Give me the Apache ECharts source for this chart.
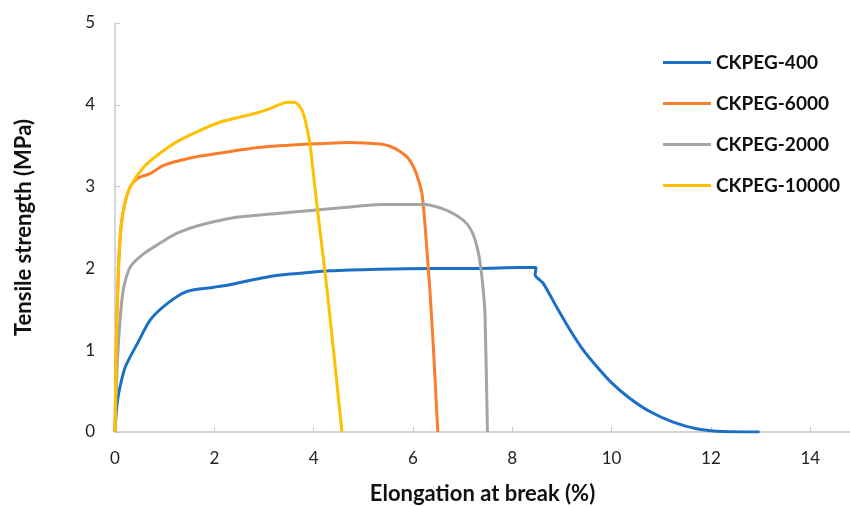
<!DOCTYPE html>
<html><head><meta charset="utf-8">
<script src="https://cdn.jsdelivr.net/npm/echarts@6/dist/echarts.min.js"></script>
<style>html,body{margin:0;padding:0;background:#fff}#c{width:850px;height:507px}</style>
</head><body><div id="c"></div>
<script>
const seriesNames = ['CKPEG-400','CKPEG-6000','CKPEG-2000','CKPEG-10000'];
const x400 = [0,0.02,0.05,0.1,0.21,0.45,0.71,1.05,1.45,1.99,2.39,2.93,3.33,3.73,4.33,5.3,6.34,7.3,8.15,8.48,8.46,8.62,8.89,9.16,9.43,9.70,10.0,10.37,10.77,11.24,11.71,12.24,12.98];
const y400 = [0,0.2,0.38,0.55,0.80,1.08,1.37,1.57,1.72,1.77,1.81,1.88,1.92,1.94,1.97,1.99,2.00,2.00,2.01,2.01,1.92,1.82,1.53,1.25,1.00,0.80,0.60,0.41,0.25,0.12,0.04,0.005,0];
const x6000 = [0,0.03,0.07,0.12,0.2,0.31,0.45,0.71,0.98,1.52,2.12,2.93,3.93,4.73,5.34,5.55,5.74,5.9,6.01,6.1,6.18,6.24,6.29,6.34,6.41,6.50];
const y6000 = [0,1.2,2.0,2.5,2.8,3.0,3.10,3.16,3.26,3.35,3.41,3.48,3.52,3.54,3.52,3.49,3.43,3.35,3.24,3.1,2.92,2.55,2.15,1.74,1.04,0];
const x2000 = [0,0.03,0.06,0.12,0.18,0.31,0.58,0.91,1.25,1.72,2.39,3.26,4.73,5.34,6.21,6.68,7.01,7.15,7.25,7.33,7.38,7.42,7.45,7.50];
const y2000 = [0,0.6,1.0,1.5,1.78,2.02,2.18,2.31,2.43,2.53,2.62,2.67,2.75,2.78,2.78,2.71,2.59,2.49,2.35,2.15,1.94,1.7,1.45,0];
const x10000 = [0,0.03,0.07,0.12,0.2,0.31,0.58,0.91,1.25,1.65,2.12,2.79,3.06,3.3,3.46,3.6,3.72,3.8,3.87,3.93,4.07,4.27,4.57];
const y10000 = [0,1.2,2.0,2.5,2.8,3.0,3.24,3.41,3.55,3.67,3.79,3.89,3.94,4.0,4.03,4.03,3.98,3.88,3.70,3.5,2.75,1.74,0];
const xTicks = [0,2,4,6,8,10,12,14];
const yTicks = [0,1,2,3,4,5];

const colors = ['#1C6FC6','#FB7D2B','#A5A5A5','#FFC000'];
const xs = [x400,x6000,x2000,x10000];
const ys = [y400,y6000,y2000,y10000];
const zip = (a,b) => a.map((v,i)=>[v,b[i]]);

const chart = echarts.init(document.getElementById('c'));
const font = 'Lato, "Liberation Sans", sans-serif';
chart.setOption({
  animation:false,
  color: colors,
  grid:{left:115,right:0,top:23,bottom:75,outerBoundsMode:'none',containLabel:false},
  legend:{
    orient:'vertical', left:658, top:48,
    icon:'rect', itemWidth:48, itemHeight:3, itemGap:22,
    data: seriesNames,
    textStyle:{fontFamily:font,fontWeight:'bold',fontSize:19,color:'#111',lineHeight:19}
  },
  xAxis:{
    type:'value', min:0, max:14.8, interval:2,
    name:'Elongation at break (%)', nameLocation:'middle', nameGap:51,
    nameTextStyle:{fontFamily:font,fontWeight:'bold',fontSize:22,color:'#111'},
    axisLine:{lineStyle:{color:'#C8C8C8',width:1.5}},
    axisTick:{inside:true,length:5,lineStyle:{color:'#C8C8C8'}},
    axisLabel:{fontFamily:font,fontSize:17,color:'#222',margin:18,
      formatter:v=> xTicks.includes(v)?String(v):''},
    splitLine:{show:false}
  },
  yAxis:{
    type:'value', min:0, max:5, interval:1,
    name:'Tensile strength (MPa)', nameLocation:'middle', nameGap:80,
    nameTextStyle:{fontFamily:font,fontWeight:'bold',fontSize:22,color:'#111'},
    axisLine:{show:true,lineStyle:{color:'#C8C8C8',width:1.5}},
    axisTick:{show:true,inside:true,length:5,lineStyle:{color:'#C8C8C8'}},
    axisLabel:{fontFamily:font,fontSize:17,color:'#222',margin:20,
      formatter:v=> yTicks.includes(v)?String(v):''},
    splitLine:{show:false}
  },
  series: seriesNames.map((n,i)=>({
    name:n, type:'line', symbol:'none', smooth:0.25,
    data: zip(xs[i],ys[i]),
    lineStyle:{width:3,color:colors[i]}, z:2+i
  }))
});
</script></body></html>
